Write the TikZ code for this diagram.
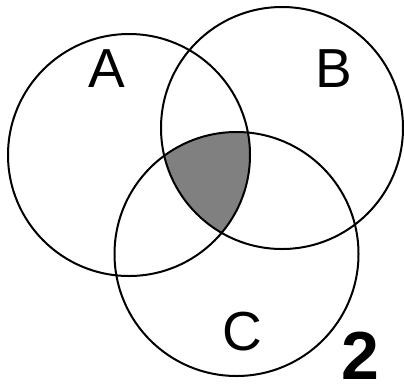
\documentclass[tikz,border=0pt]{standalone}
\usepackage{fontspec}
\setmainfont{Liberation Sans}

\begin{document}
\begin{tikzpicture}[
  x=1pt, y=-1pt,
  line width=2pt,
  every node/.style={inner sep=0pt, anchor=base},
  setlabel/.style={font=\fontsize{55}{60}\selectfont},
  numlabel/.style={font=\fontsize{68}{72}\selectfont\bfseries}
]
\useasboundingbox (0,0) rectangle (404,384);

\coordinate (ca) at (129,155);
\coordinate (cb) at (282,128);
\coordinate (cc) at (236.5,254);

% common part of A, B and C
\begin{scope}
  \clip (ca) circle (121);
  \clip (cb) circle (121);
  \fill[gray] (cc) circle (122);
\end{scope}

\draw (ca) circle (121);
\draw (cb) circle (121);
\draw (cc) circle (122);

\node[setlabel] (la) at (106.5,87) {A};
\node[setlabel] (lb) at (334,87) {B};
\node[setlabel] (lc) at (242,350) {C};
\node[numlabel] (num) at (360.5,379) {2};

\end{tikzpicture}
\end{document}
